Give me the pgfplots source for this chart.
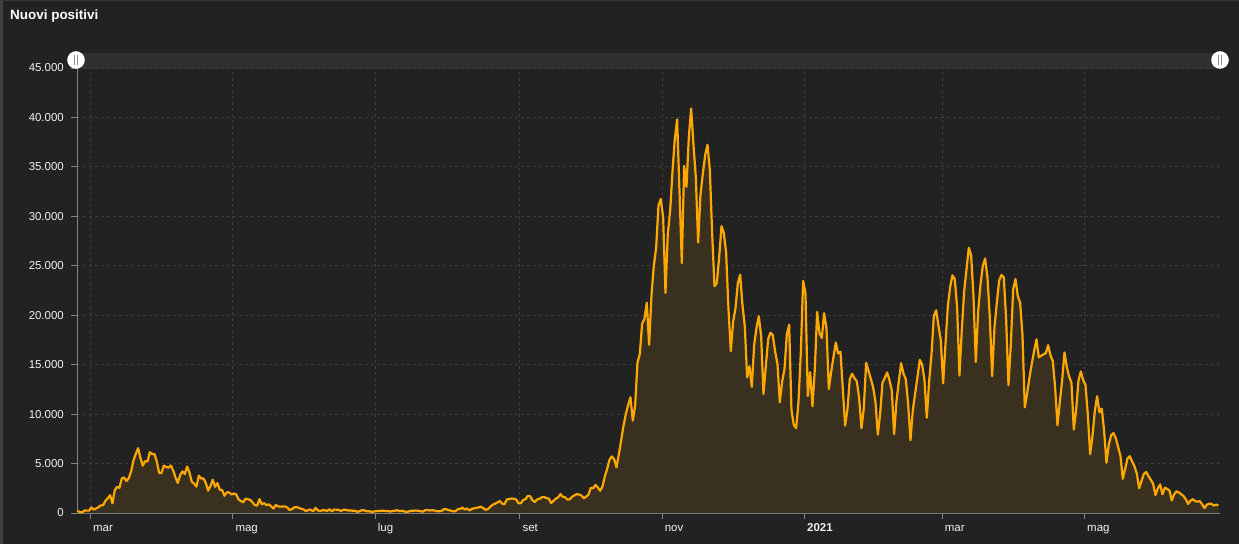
\documentclass[border=0pt]{standalone}
\usepackage{pgfplots}
\pgfplotsset{compat=1.18}
\usepackage{pgfplotstable}
\usepackage{fontspec}
\setmainfont{Liberation Sans}

\definecolor{bgc}{HTML}{222222}
\definecolor{gridc}{HTML}{3D3D3D}
\definecolor{axc}{HTML}{858585}
\definecolor{linec}{HTML}{FFA800}
\definecolor{areac}{HTML}{3A3020}
\definecolor{sliderc}{HTML}{303030}
\definecolor{txtc}{HTML}{F2F2F2}

% nuovi positivi, one value per day, from 24 feb 2020 to 27 jun 2021
\pgfplotstableread[row sep=\\]{
v\\
221\\ 93\\ 78\\ 250\\ 238\\ 240\\
566\\ 342\\ 466\\ 587\\ 769\\ 778\\ 1247\\ 1492\\ 1797\\ 977\\ 2313\\ 2651\\ 2547\\ 3497\\ 3590\\ 3233\\ 3526\\ 4207\\ 5322\\ 5986\\ 6557\\ 5560\\ 4789\\ 5249\\ 5210\\ 6153\\ 5959\\ 5974\\ 5217\\ 4050\\ 4053\\
4782\\ 4668\\ 4585\\ 4805\\ 4316\\ 3599\\ 3039\\ 3836\\ 4204\\ 3951\\ 4694\\ 4092\\ 3153\\ 2972\\ 2667\\ 3786\\ 3493\\ 3491\\ 3047\\ 2256\\ 2729\\ 3370\\ 2646\\ 3021\\ 2357\\ 2324\\ 1739\\ 2091\\ 2086\\ 1872\\
1965\\ 1900\\ 1389\\ 1221\\ 1075\\ 1444\\ 1401\\ 1327\\ 1083\\ 802\\ 744\\ 1402\\ 888\\ 992\\ 789\\ 875\\ 675\\ 451\\ 813\\ 665\\ 642\\ 652\\ 669\\ 531\\ 300\\ 397\\ 584\\ 593\\ 516\\ 416\\ 355\\
178\\ 318\\ 321\\ 177\\ 518\\ 270\\ 197\\ 280\\ 283\\ 202\\ 379\\ 163\\ 346\\ 338\\ 301\\ 210\\ 328\\ 333\\ 251\\ 262\\ 224\\ 218\\ 122\\ 190\\ 296\\ 259\\ 175\\ 174\\ 126\\ 142\\
187\\ 201\\ 223\\ 235\\ 192\\ 208\\ 138\\ 193\\ 229\\ 276\\ 188\\ 234\\ 169\\ 114\\ 162\\ 230\\ 233\\ 249\\ 219\\ 190\\ 129\\ 282\\ 306\\ 252\\ 275\\ 255\\ 170\\ 181\\ 202\\ 386\\ 379\\
295\\ 239\\ 159\\ 190\\ 384\\ 402\\ 552\\ 347\\ 463\\ 259\\ 412\\ 481\\ 523\\ 574\\ 629\\ 479\\ 320\\ 403\\ 642\\ 845\\ 947\\ 1071\\ 1210\\ 953\\ 878\\ 1367\\ 1411\\ 1462\\ 1444\\ 1365\\ 996\\
978\\ 1326\\ 1397\\ 1733\\ 1695\\ 1297\\ 1108\\ 1370\\ 1434\\ 1597\\ 1616\\ 1501\\ 1458\\ 1008\\ 1229\\ 1452\\ 1585\\ 1907\\ 1638\\ 1587\\ 1350\\ 1392\\ 1640\\ 1786\\ 1912\\ 1869\\ 1766\\ 1494\\ 1648\\ 1851\\
2548\\ 2499\\ 2844\\ 2578\\ 2257\\ 2677\\ 3678\\ 4458\\ 5372\\ 5724\\ 5456\\ 4619\\ 5901\\ 7332\\ 8804\\ 10010\\ 10925\\ 11705\\ 9338\\ 10874\\ 15199\\ 16079\\ 19143\\ 19644\\ 21273\\ 17012\\ 21994\\ 24991\\ 26831\\ 31084\\ 31758\\
29907\\ 22253\\ 28244\\ 30550\\ 34505\\ 37809\\ 39811\\ 32616\\ 25271\\ 35098\\ 32961\\ 37978\\ 40902\\ 37255\\ 33979\\ 27354\\ 32191\\ 34283\\ 36176\\ 37242\\ 34767\\ 28337\\ 22930\\ 23232\\ 25853\\ 29003\\ 28352\\ 26323\\ 20648\\ 16377\\
19350\\ 20709\\ 23225\\ 24099\\ 21052\\ 18887\\ 13720\\ 14842\\ 12756\\ 16999\\ 18727\\ 19903\\ 17938\\ 12030\\ 14844\\ 17572\\ 18236\\ 17992\\ 16308\\ 15104\\ 11200\\ 13318\\ 14522\\ 18040\\ 19037\\ 10407\\ 8913\\ 8585\\ 11212\\ 16202\\ 23477\\
22211\\ 11831\\ 14245\\ 10800\\ 14500\\ 20331\\ 18200\\ 17700\\ 20200\\ 18700\\ 12532\\ 14242\\ 15774\\ 17246\\ 16146\\ 16310\\ 12545\\ 8825\\ 10497\\ 13571\\ 14078\\ 13633\\ 13331\\ 11629\\ 8561\\ 10593\\ 15204\\ 14372\\ 13574\\ 12715\\ 11252\\
7925\\ 10000\\ 13189\\ 13659\\ 14218\\ 13442\\ 12400\\ 7970\\ 11300\\ 13300\\ 15146\\ 14111\\ 13532\\ 11068\\ 7351\\ 10386\\ 12074\\ 13762\\ 15479\\ 15000\\ 13452\\ 9630\\ 13314\\ 16000\\ 19886\\ 20499\\ 18916\\ 17455\\
13114\\ 17083\\ 20884\\ 22865\\ 24036\\ 23641\\ 20765\\ 13902\\ 18500\\ 22409\\ 24600\\ 26824\\ 26062\\ 22000\\ 15267\\ 20396\\ 23059\\ 25000\\ 25735\\ 23832\\ 19800\\ 13846\\ 18765\\ 21267\\ 23500\\ 24076\\ 23839\\ 19611\\ 12916\\ 17000\\ 22600\\
23649\\ 21932\\ 21261\\ 18025\\ 10680\\ 12100\\ 13700\\ 15100\\ 16400\\ 17567\\ 15746\\ 15900\\ 16050\\ 16168\\ 16974\\ 15943\\ 15370\\ 12694\\ 8864\\ 11200\\ 13400\\ 16232\\ 14761\\ 13817\\ 13158\\ 8444\\ 10404\\ 13385\\ 14320\\ 13446\\
12965\\ 10000\\ 5948\\ 7800\\ 10300\\ 11807\\ 10176\\ 10554\\ 8292\\ 5080\\ 6946\\ 7852\\ 8085\\ 7567\\ 6659\\ 5753\\ 3455\\ 4452\\ 5506\\ 5741\\ 5218\\ 4717\\ 3995\\ 2490\\ 3224\\ 3937\\ 4147\\ 3738\\ 3351\\ 2949\\ 1820\\
2483\\ 2897\\ 1896\\ 2557\\ 2436\\ 2275\\ 1273\\ 1896\\ 2199\\ 2079\\ 1901\\ 1723\\ 1390\\ 907\\ 1255\\ 1400\\ 1197\\ 1147\\ 1197\\ 876\\ 495\\ 835\\ 951\\ 927\\ 753\\ 838\\ 777\\
}\positivi

\begin{document}
\begin{tikzpicture}
% page background and frame
\fill[bgc] (0,0) rectangle (1239bp,544bp);
\fill[black!75] (0,0) rectangle (3bp,544bp);
\fill[black!78] (0,543bp) rectangle (1239bp,544bp);
% scrollbar band above the plot
\fill[sliderc] (76bp,475bp) rectangle (1220bp,491.3bp);

\begin{axis}[
    at={(77bp,31bp)}, anchor=south west,
    scale only axis, width=1143bp, height=445bp,
    xmin=-5.7, xmax=484.16, ymin=0, ymax=45000,
    axis lines*=left,
    axis line style={axc, line width=0.8bp},
    xtick={0,61,122,184,245,306,365,426},
    xticklabels={mar,mag,lug,set,nov,\textbf{2021},mar,mag},
    ytick={0,5000,...,45000},
    tick align=outside,
    major tick length=6bp,
    tick style={axc, line width=0.8bp},
    grid=major,
    major grid style={gridc, line width=0.8bp, dash pattern=on 3bp off 3bp},
    tick label style={font=\fontsize{11.5}{13}\selectfont, text=txtc},
    xticklabel style={anchor=north west, inner sep=0pt, xshift=2.7bp, yshift=-4.5bp,
        text height=8.2bp, text depth=2.5bp},
    yticklabel style={anchor=east, inner sep=0pt, xshift=-7bp},
    scaled y ticks=false,
    yticklabel={\pgfmathprintnumber[assume math mode=true,1000 sep={.}]{\tick}},
    clip=false,
]
\addplot[draw=none, fill=areac] table[x expr=\coordindex-5.5, y=v] {\positivi} \closedcycle;
\addplot[linec, line width=2.2bp, line join=round] table[x expr=\coordindex-5.5, y=v] {\positivi};
\end{axis}

% scrollbar handles
\foreach \hx in {76,1220} {
  \fill[white] (\hx bp,484bp) circle (8.8bp);
  \draw[black!45, line width=0.7bp] (\hx bp-1.4bp,479bp) -- (\hx bp-1.4bp,489bp)
        (\hx bp+1.4bp,479bp) -- (\hx bp+1.4bp,489bp);
}

\node[anchor=base west, inner sep=0pt, text=white,
      font=\fontsize{13.5}{16}\selectfont\bfseries] at (10bp,524.7bp) {Nuovi positivi};

\pgfresetboundingbox
\useasboundingbox (0,0) rectangle (1239bp,544bp);
\end{tikzpicture}
\end{document}
